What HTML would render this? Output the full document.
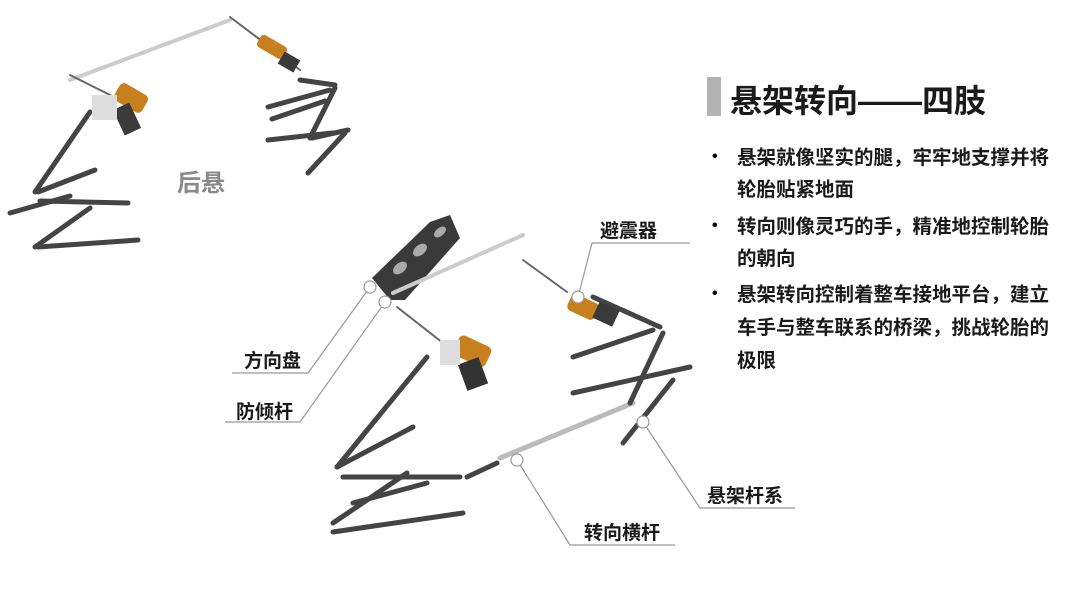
<!DOCTYPE html>
<html><head><meta charset="utf-8"><style>
body{margin:0;width:1080px;height:607px;background:#fff;overflow:hidden;position:relative;font-family:"Liberation Sans","Noto Sans CJK SC",sans-serif;}
.t{position:absolute;font-weight:bold;color:#1a1a1a;white-space:nowrap;}
.b{position:absolute;font-weight:bold;color:#1a1a1a;font-size:19.5px;line-height:32px;left:737px;width:345px;white-space:nowrap;}
.dot{position:absolute;left:712px;font-size:16px;font-weight:bold;}
</style></head><body>
<svg width="1080" height="607" style="position:absolute;left:0;top:0">
<g stroke-linecap="round">
<!-- rear -->
<line x1="70" y1="80" x2="230" y2="20" stroke="#ccc" stroke-width="4"/>
<line x1="230" y1="17" x2="300" y2="70" stroke="#666" stroke-width="2"/>
<line x1="70" y1="75" x2="120" y2="100" stroke="#666" stroke-width="2"/>
<g stroke="#444" stroke-width="5">
<line x1="90" y1="112" x2="35" y2="192"/>
<line x1="38" y1="192" x2="95" y2="170"/>
<line x1="40" y1="201" x2="128" y2="203"/>
<line x1="10" y1="213" x2="70" y2="196"/>
<line x1="35" y1="247" x2="90" y2="208"/>
<line x1="38" y1="247" x2="138" y2="240"/>
<line x1="300" y1="80" x2="335" y2="85"/>
<line x1="335" y1="88" x2="310" y2="138"/>
<line x1="312" y1="138" x2="348" y2="130"/>
<line x1="345" y1="133" x2="308" y2="173"/>
<line x1="268" y1="107" x2="330" y2="90"/>
<line x1="272" y1="119" x2="325" y2="101"/>
<line x1="268" y1="140" x2="332" y2="133"/>
</g>
<rect x="115" y="88" width="32" height="20" rx="5" fill="#c8801e" transform="rotate(30 131 98)"/>
<rect x="118" y="105" width="18" height="28" fill="#3a3a3a" transform="rotate(-25 127 119)"/>
<rect x="92" y="95" width="25" height="25" fill="#ddd"/>
<rect x="257" y="40" width="30" height="14" rx="4" fill="#c8801e" transform="rotate(30 272 47)"/>
<rect x="280" y="55" width="18" height="14" fill="#3a3a3a" transform="rotate(30 289 62)"/>
<!-- front -->
<polygon points="372,278 430,222 450,215 460,238 405,300 390,300" fill="#3a3a3a"/>
<ellipse cx="400" cy="268" rx="8" ry="5" fill="#aaa" transform="rotate(-40 400 268)"/>
<ellipse cx="420" cy="250" rx="8" ry="5" fill="#aaa" transform="rotate(-40 420 250)"/>
<ellipse cx="440" cy="232" rx="7" ry="4" fill="#aaa" transform="rotate(-40 440 232)"/>
<line x1="393" y1="293" x2="523" y2="235" stroke="#ccc" stroke-width="4"/>
<line x1="523" y1="260" x2="567" y2="292" stroke="#666" stroke-width="2"/>
<line x1="397" y1="307" x2="443" y2="343" stroke="#666" stroke-width="2"/>
<line x1="500" y1="458" x2="633" y2="403" stroke="#bbb" stroke-width="5"/>
<g stroke="#444" stroke-width="5">
<line x1="593" y1="297" x2="660" y2="327"/>
<line x1="663" y1="333" x2="630" y2="403"/>
<line x1="573" y1="357" x2="653" y2="330"/>
<line x1="573" y1="393" x2="690" y2="367"/>
<line x1="673" y1="380" x2="623" y2="443"/>
<line x1="427" y1="357" x2="337" y2="467"/>
<line x1="337" y1="467" x2="413" y2="427"/>
<line x1="343" y1="477" x2="460" y2="477"/>
<line x1="333" y1="523" x2="407" y2="473"/>
<line x1="353" y1="503" x2="427" y2="483"/>
<line x1="333" y1="532" x2="463" y2="513"/>
<line x1="467" y1="477" x2="497" y2="463"/>
</g>
<rect x="568" y="298" width="30" height="18" rx="5" fill="#c8801e" transform="rotate(25 583 307)"/>
<rect x="595" y="305" width="22" height="18" fill="#3a3a3a" transform="rotate(25 606 314)"/>
<rect x="455" y="340" width="35" height="22" rx="5" fill="#c8801e" transform="rotate(25 472 351)"/>
<rect x="462" y="360" width="22" height="28" fill="#333" transform="rotate(-20 473 374)"/>
<rect x="440" y="340" width="20" height="25" fill="#ddd"/>
</g>
<g stroke="#999" stroke-width="1.2" fill="none">
<polyline points="232,373 308,373 370,287"/>
<polyline points="225,422 300,422 385,302"/>
<polyline points="690,243 592,243 578,297"/>
<polyline points="795,508 700,508 643,422"/>
<polyline points="675,545 570,545 517,460"/>
</g>
<g fill="#fff" stroke="#999" stroke-width="1.2">
<circle cx="370" cy="287" r="6"/><circle cx="385" cy="302" r="6"/><circle cx="578" cy="297" r="6"/><circle cx="643" cy="422" r="6"/><circle cx="517" cy="460" r="6"/>
</g>
</svg>
<div class="t" style="left:177px;top:163px;font-size:24px;color:#8a8a8a">后悬</div>
<div class="t" style="left:244px;top:346px;font-size:19px">方向盘</div>
<div class="t" style="left:236px;top:397px;font-size:19px">防倾杆</div>
<div class="t" style="left:600px;top:216px;font-size:19px">避震器</div>
<div class="t" style="left:707px;top:481px;font-size:19px">悬架杆系</div>
<div class="t" style="left:584px;top:518px;font-size:19px">转向横杆</div>
<div style="position:absolute;left:707px;top:77px;width:14px;height:39px;background:#b3b3b3"></div>
<div class="t" style="left:730px;top:76px;font-size:32px">悬架转向——四肢</div>
<div class="dot" style="top:148px">•</div>
<div class="dot" style="top:217px">•</div>
<div class="dot" style="top:285px">•</div>
<div class="b" style="top:142px">悬架就像坚实的腿，牢牢地支撑并将<br>轮胎贴紧地面</div>
<div class="b" style="top:211px">转向则像灵巧的手，精准地控制轮胎<br>的朝向</div>
<div class="b" style="top:279px;line-height:33px">悬架转向控制着整车接地平台，建立<br>车手与整车联系的桥梁，挑战轮胎的<br>极限</div>
</body></html>
